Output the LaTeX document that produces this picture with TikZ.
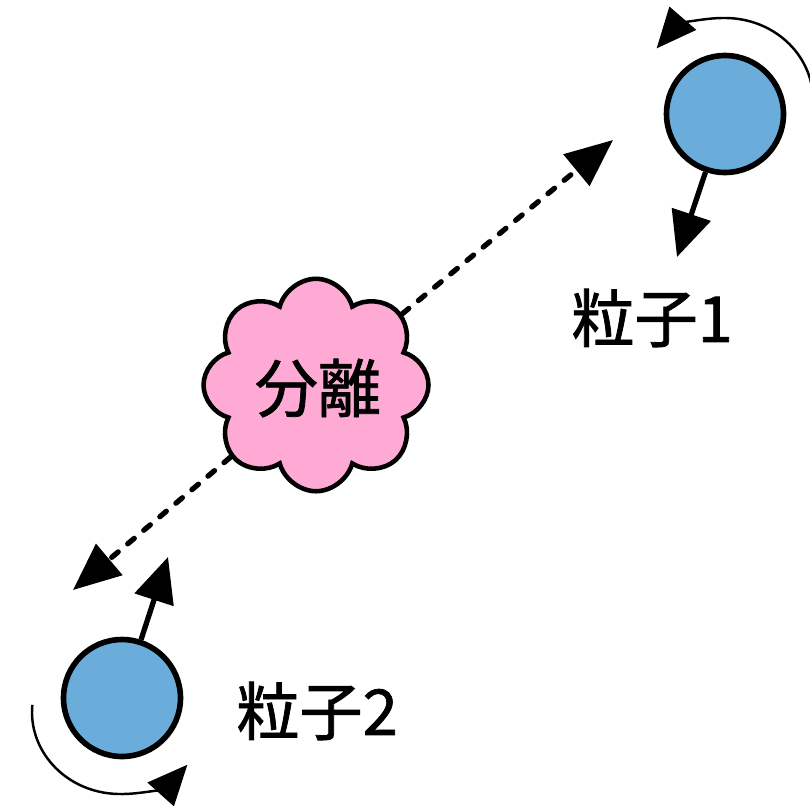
\documentclass[tikz,border=0pt]{standalone}
\usepackage{fontspec}
\setmainfont[FakeBold=1.2,AutoFakeBold=0]{Noto Sans CJK JP}
\usetikzlibrary{arrows.meta,shapes.symbols}
\definecolor{spinblue}{HTML}{6AADDB}
\definecolor{cloudpink}{HTML}{FFAAD5}
\begin{document}
\begin{tikzpicture}[x=0.02cm,y=-0.02cm,
  font=\fontsize{36}{42}\selectfont,
  particle/.style={circle,draw,line width=3.2pt,fill=spinblue,minimum size=2.34cm},
  spin/.style={line width=3pt,-{Triangle[length=0.9cm,width=0.8cm]}},
  twist/.style={line width=1.4pt,-{Triangle[length=0.8cm,width=0.7cm]}},
  sepline/.style={line width=3pt,line cap=round,dash pattern=on 0.17cm off 0.25cm,
    -{Triangle[length=0.95cm,width=0.8cm]}}]
  \useasboundingbox (0,0) rectangle (810,805);
  % source cloud
  \node[cloud,cloud puffs=8,cloud puff arc=150,aspect=1.05,draw,line width=2.6pt,fill=cloudpink,
        minimum width=4.5cm,minimum height=4.25cm] (sep) at (316,385) {};
  \node (septext) at (318,388) {分離};
  % particles
  \node[particle] (p1) at (725,114) {};
  \node[particle] (p2) at (122,698) {};
  \node (lab1) at (652,318) {粒子1};
  \node (lab2) at (317,711) {粒子2};
  % flight directions
  \coordinate (d1) at (613,140);
  \coordinate (d2) at (73,590);
  \draw[sepline] (sep) -- (d1);
  \draw[sepline] (sep) -- (d2);
  % spin directions
  \coordinate (s1) at (677,257);
  \coordinate (s2) at (168,557);
  \draw[spin] (p1) -- (s1);
  \draw[spin] (p2) -- (s2);
  % rotation
  \draw[twist] ([shift={(5:88 and 82)}]725,100) arc[start angle=5,end angle=-141,x radius=88,y radius=82];
  \draw[twist] ([shift={(185:88 and 82)}]120,712) arc[start angle=185,end angle=40,x radius=88,y radius=82];
\end{tikzpicture}
\end{document}
